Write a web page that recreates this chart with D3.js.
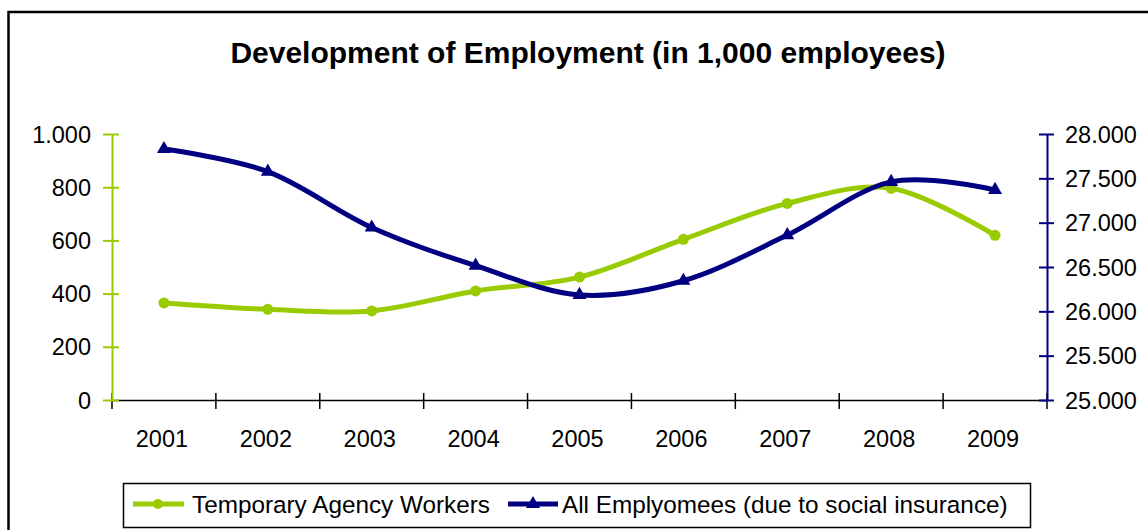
<!DOCTYPE html>
<html>
<head>
<meta charset="utf-8">
<script src="https://cdn.jsdelivr.net/npm/d3@7"></script>
<style>
  html, body { margin: 0; padding: 0; background: #fff; }
  svg { display: block; font-family: "Liberation Sans", Arial, sans-serif; }
</style>
</head>
<body>
<svg id="chart" width="1148" height="530"></svg>
<script>
// Yearly values
const years = ["2001", "2002", "2003", "2004", "2005", "2006", "2007", "2008", "2009"];
const temporaryWorkers = [365, 341, 335, 410, 462, 604, 739, 796, 619];
const allEmployees = [27830, 27575, 26945, 26515, 26185, 26345, 26860, 27460, 27370];
const leftTicks = [0, 200, 400, 600, 800, 1000];
const rightTicks = [25000, 25500, 26000, 26500, 27000, 27500, 28000];
const seriesNames = ["Temporary Agency Workers", "All Emplyomees (due to social insurance)"];

const GREEN = "#99cc00";
const NAVY = "#000080";

const svg = d3.select("#chart");
const fmt = d3.formatLocale({ decimal: ",", thousands: ".", grouping: [3], currency: ["", ""] }).format(",d");

// Chart frame
svg.append("rect")
  .attr("x", 8.5).attr("y", 12)
  .attr("width", 1160).attr("height", 540)
  .attr("fill", "none").attr("stroke", "#000").attr("stroke-width", 2.5);

// Title
svg.append("text")
  .attr("x", 588).attr("y", 63)
  .attr("text-anchor", "middle")
  .attr("font-size", 30).attr("font-weight", "bold")
  .text("Development of Employment (in 1,000 employees)");

const plotLeft = 112, plotRight = 1047, plotTop = 134, plotBottom = 400;

const x = d3.scaleBand().domain(years).range([plotLeft, plotRight]);
const xc = d => x(d) + x.bandwidth() / 2;
const yL = d3.scaleLinear().domain([0, 1000]).range([plotBottom, plotTop]);
const yR = d3.scaleLinear().domain([25000, 28000]).range([plotBottom, plotTop]);

// X axis with cross tick marks at category boundaries
const xAxis = svg.append("g").attr("transform", `translate(0,${plotBottom})`);
xAxis.call(d3.axisBottom(x).tickSize(0).tickFormat(""));
xAxis.select(".domain").attr("stroke", "#000").attr("stroke-width", 1.5);
const bounds = years.map(d => x(d)).concat([plotRight]);
xAxis.selectAll("line.xt").data(bounds).join("line").attr("class", "xt")
  .attr("x1", d => d).attr("x2", d => d)
  .attr("y1", -7).attr("y2", 9)
  .attr("stroke", "#000").attr("stroke-width", 1.5);
svg.append("g").selectAll("text").data(years).join("text")
  .attr("x", d => xc(d) - 2).attr("y", 447)
  .attr("text-anchor", "middle").attr("font-size", 23.5)
  .text(d => d);

// Left axis (temporary agency workers)
const yAxisL = svg.append("g").attr("transform", `translate(${plotLeft},0)`)
  .call(d3.axisLeft(yL).tickValues(leftTicks).tickSize(0).tickFormat(""));
yAxisL.select(".domain").attr("stroke", GREEN).attr("stroke-width", 2);
yAxisL.selectAll(".tick").append("line")
  .attr("x1", -9).attr("x2", 7).attr("stroke", GREEN).attr("stroke-width", 2);
svg.append("g").selectAll("text").data(leftTicks).join("text")
  .attr("x", 91).attr("y", d => yL(d) + 8.5)
  .attr("text-anchor", "end").attr("font-size", 23.5)
  .text(d => fmt(d));

// Right axis (all employees)
const yAxisR = svg.append("g").attr("transform", `translate(${plotRight},0)`)
  .call(d3.axisRight(yR).tickValues(rightTicks).tickSize(0).tickFormat(""));
yAxisR.select(".domain").attr("stroke", NAVY).attr("stroke-width", 2);
yAxisR.selectAll(".tick").append("line")
  .attr("x1", -8).attr("x2", 7).attr("stroke", NAVY).attr("stroke-width", 2);
svg.append("g").selectAll("text").data(rightTicks).join("text")
  .attr("x", 1065).attr("y", d => yR(d) + 8.5)
  .attr("text-anchor", "start").attr("font-size", 23.5)
  .text(d => fmt(d));

// Smoothed series lines
const curve = d3.curveCardinal.tension(0);
const greenLine = d3.line().x((d, i) => xc(years[i])).y(d => yL(d)).curve(curve);
const navyLine = d3.line().x((d, i) => xc(years[i])).y(d => yR(d)).curve(curve);

svg.append("path").datum(temporaryWorkers)
  .attr("d", greenLine).attr("fill", "none")
  .attr("stroke", GREEN).attr("stroke-width", 5).attr("stroke-linejoin", "round");
svg.append("g").selectAll("circle").data(temporaryWorkers).join("circle")
  .attr("cx", (d, i) => xc(years[i])).attr("cy", d => yL(d))
  .attr("r", 5.5).attr("fill", GREEN);

svg.append("path").datum(allEmployees)
  .attr("d", navyLine).attr("fill", "none")
  .attr("stroke", NAVY).attr("stroke-width", 5).attr("stroke-linejoin", "round");
const tri = d3.symbol().type(d3.symbolTriangle).size(85);
svg.append("g").selectAll("path").data(allEmployees).join("path")
  .attr("d", tri)
  .attr("transform", (d, i) => `translate(${xc(years[i])},${yR(d)})`)
  .attr("fill", NAVY);

// Legend
const legend = svg.append("g");
legend.append("rect")
  .attr("x", 123.5).attr("y", 483.5).attr("width", 907).attr("height", 44)
  .attr("fill", "#fff").attr("stroke", "#000").attr("stroke-width", 1.5);
const ly = 504;
legend.append("line").attr("x1", 133).attr("x2", 184).attr("y1", ly).attr("y2", ly)
  .attr("stroke", GREEN).attr("stroke-width", 5);
legend.append("circle").attr("cx", 158).attr("cy", ly).attr("r", 5).attr("fill", GREEN);
legend.append("text").attr("x", 192).attr("y", ly + 8.5).attr("font-size", 24.3).text(seriesNames[0]);
legend.append("line").attr("x1", 508).attr("x2", 558).attr("y1", ly).attr("y2", ly)
  .attr("stroke", NAVY).attr("stroke-width", 5);
legend.append("path").attr("d", tri).attr("transform", `translate(533,${ly})`).attr("fill", NAVY);
legend.append("text").attr("x", 562).attr("y", ly + 8.5).attr("font-size", 24.3).text(seriesNames[1]);
</script>
</body>
</html>
